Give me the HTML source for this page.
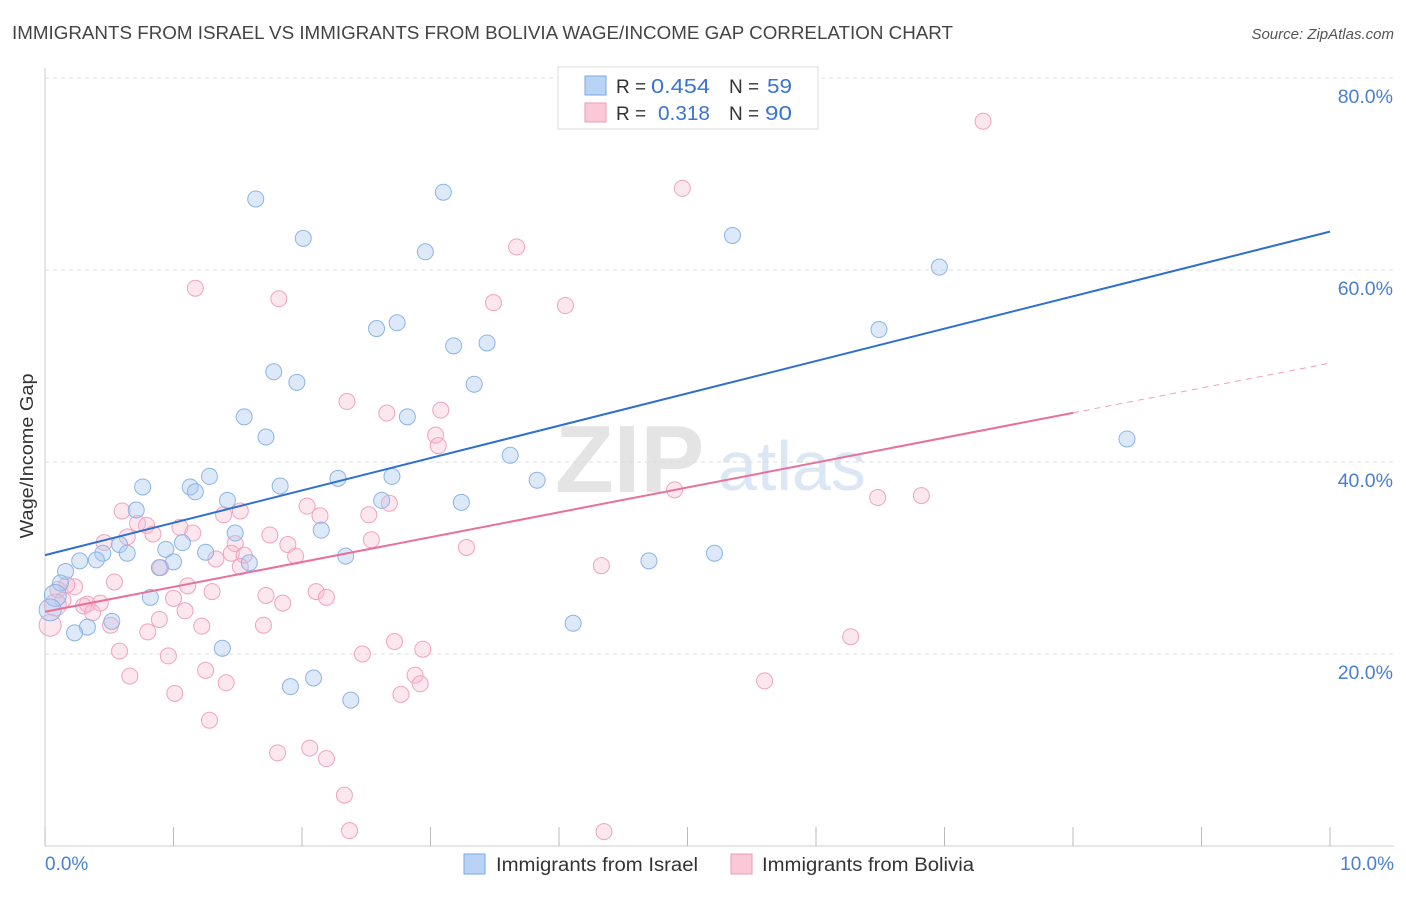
<!DOCTYPE html>
<html><head><meta charset="utf-8">
<style>
body{margin:0;background:#fff;font-family:"Liberation Sans",sans-serif;}
svg text{font-family:"Liberation Sans",sans-serif;}
</style></head>
<body>
<svg id="chart" width="1406" height="892" viewBox="0 0 1406 892" xmlns="http://www.w3.org/2000/svg">
<text x="12" y="39" font-size="18" fill="#444" textLength="941" lengthAdjust="spacingAndGlyphs">IMMIGRANTS FROM ISRAEL VS IMMIGRANTS FROM BOLIVIA WAGE/INCOME GAP CORRELATION CHART</text>
<text x="1394" y="39" font-size="15" fill="#555" font-style="italic" text-anchor="end">Source: ZipAtlas.com</text>
<text transform="translate(33,456) rotate(-90)" font-size="18" fill="#333" text-anchor="middle" textLength="165" lengthAdjust="spacingAndGlyphs">Wage/Income Gap</text>
<g>
<text x="555" y="492" font-size="96" fill="#e4e4e4" font-family="Liberation Serif" font-weight="bold">ZIP</text>
<text x="718" y="490" font-size="70" fill="#dce7f5">atlas</text>
</g>
<g id="grid"></g>
<g id="axes"></g>
<g id="pink"></g>
<g id="blue"></g>
<g id="lines"></g>
<g>
<rect x="558" y="67" width="260" height="62" fill="#fff" stroke="#ddd"/>
<rect x="585" y="76" width="21" height="19" fill="#b9d3f5" stroke="#7aa8e6"/>
<rect x="585" y="103" width="21" height="19" fill="#fbc8d8" stroke="#ef9ab6"/>
<text x="616" y="93" font-size="19" fill="#333">R = </text><text x="651" y="93" font-size="20" fill="#3a74d0" textLength="59" lengthAdjust="spacingAndGlyphs">0.454</text>
<text x="729" y="93" font-size="19" fill="#333">N = </text><text x="767" y="93" font-size="20" fill="#3a74d0" textLength="25" lengthAdjust="spacingAndGlyphs">59</text>
<text x="616" y="120" font-size="19" fill="#333">R = </text><text x="658" y="120" font-size="20" fill="#3a74d0" textLength="52" lengthAdjust="spacingAndGlyphs">0.318</text>
<text x="729" y="120" font-size="19" fill="#333">N = </text><text x="765" y="120" font-size="20" fill="#3a74d0" textLength="27" lengthAdjust="spacingAndGlyphs">90</text>
</g>
<g>
<rect x="464" y="854" width="21" height="20" fill="#b9d3f5" stroke="#7aa8e6"/>
<text x="496" y="871" font-size="19" fill="#333" textLength="202" lengthAdjust="spacingAndGlyphs">Immigrants from Israel</text>
<rect x="731" y="854" width="21" height="20" fill="#fbc8d8" stroke="#ef9ab6"/>
<text x="762" y="871" font-size="19" fill="#333" textLength="212" lengthAdjust="spacingAndGlyphs">Immigrants from Bolivia</text>
</g>
</svg>
<script>
const blueX=[1.64,2.01,3.10,2.96,5.35,6.96,6.49,2.58,2.74,3.18,3.44,3.34,1.78,1.96,1.55,1.72,2.82,8.42,3.62,3.83,2.70,2.28,3.24,2.62,1.83,1.28,1.13,1.17,0.76,1.42,0.71,1.48,2.15,2.34,1.59,1.07,0.94,1.25,1.00,0.89,0.58,0.45,0.64,0.40,0.27,0.16,0.12,0.08,0.82,0.52,0.33,0.23,1.38,1.91,2.09,2.38,4.11,4.70,5.21,0.04];
const blueY=[67.4,63.3,68.1,61.9,63.6,60.3,53.8,53.9,54.5,52.1,52.4,48.1,49.4,48.3,44.7,42.6,44.7,42.4,40.7,38.1,38.5,38.3,35.8,36.0,37.5,38.5,37.4,36.9,37.4,36.0,35.0,32.6,32.9,30.2,29.5,31.6,30.9,30.6,29.6,29.0,31.4,30.5,30.5,29.8,29.7,28.6,27.4,26.1,25.9,23.4,22.8,22.2,20.6,16.6,17.5,15.2,23.2,29.7,30.5,24.6];
const pinkX=[7.30,4.96,3.67,1.17,1.82,3.49,4.05,2.35,2.66,3.08,3.04,3.06,4.90,6.48,6.82,2.04,2.68,2.52,2.14,1.52,1.39,0.60,0.72,0.79,0.84,1.05,1.15,0.64,0.46,1.75,1.89,1.95,1.48,1.45,1.55,1.33,2.54,3.28,4.33,0.90,1.11,1.30,1.72,1.85,2.11,2.19,1.00,1.09,0.89,0.54,0.23,0.17,0.10,0.14,0.33,0.43,0.30,0.37,0.51,0.80,1.22,1.70,2.72,2.94,2.47,0.58,0.96,6.27,0.66,1.01,1.25,1.41,2.77,2.88,2.92,5.60,1.28,1.81,2.06,2.19,2.33,2.37,4.35,0.04,0.08,1.52];
const pinkY=[75.5,68.5,62.4,58.1,57.0,56.6,56.3,46.3,45.1,45.4,42.8,41.7,37.1,36.3,36.5,35.4,35.7,34.5,34.4,34.9,34.5,34.9,33.6,33.4,32.5,33.2,32.6,32.2,31.6,32.4,31.4,30.2,31.5,30.5,30.3,29.9,31.9,31.1,29.2,29.0,27.1,26.5,26.1,25.3,26.5,25.9,25.8,24.5,23.6,27.5,27.0,27.2,26.7,25.6,25.2,25.3,25.0,24.3,23.0,22.3,22.9,23.0,21.3,20.5,20.0,20.3,19.8,21.8,17.7,15.9,18.3,17.0,15.8,17.8,16.9,17.2,13.1,9.7,10.2,9.1,5.3,1.6,1.5,23.0,25.1,29.1];
const blueTrend=[30.3,64.0];
const pinkTrend=[24.4,50.3];
const yTicks=[20,40,60,80];
const yTickLabels=["20.0%","40.0%","60.0%","80.0%"];
const xTicks=[0,1,2,3,4,5,6,7,8,9,10];

const NS="http://www.w3.org/2000/svg";
const X0=45,X1=1330,Y0=846,YPX=9.6;
function sx(v){return X0+(X1-X0)*v/10;}
function sy(v){return Y0-v*YPX;}
function mk(tag,attrs,parent){const e=document.createElementNS(NS,tag);for(const k in attrs)e.setAttribute(k,attrs[k]);parent.appendChild(e);return e;}
const grid=document.getElementById('grid'),axes=document.getElementById('axes');
yTicks.forEach((t,i)=>{
  const l=mk('line',{x1:X0,x2:1394,y1:sy(t),y2:sy(t),stroke:'#ddd','stroke-dasharray':'4,4'},grid);
  
  
  const tx=mk('text',{x:1393,y:sy(t)+25,'font-size':19.5,fill:'#4a7fd0','text-anchor':'end'},axes);
  tx.textContent=yTickLabels[i];
  
  
});
mk('line',{x1:X0,x2:X0,y1:68,y2:Y0,stroke:'#ccc'},axes);
mk('line',{x1:X0,x2:1394,y1:Y0,y2:Y0,stroke:'#ccc'},axes);
xTicks.forEach(t=>{
  const l=mk('line',{x1:sx(t),x2:sx(t),y1:827,y2:Y0,stroke:'#bbb'},axes);
  
  
});
let t1=mk('text',{x:45,y:870,'font-size':19,fill:'#4a7fd0'},axes);t1.textContent="0.0%";


let t2=mk('text',{x:1394,y:870,'font-size':19,fill:'#4a7fd0','text-anchor':'end'},axes);t2.textContent="10.0%";



const pg=document.getElementById('pink');
pinkX.forEach((x,i)=>{
  const big=x<0.1;
  const c=mk('circle',{cx:sx(x),cy:sy(pinkY[i]),r:big?11:8,fill:'rgba(248,185,205,0.35)',stroke:'#f0a3bd','stroke-width':1},pg);
  
  
});
const bg=document.getElementById('blue');
blueX.forEach((x,i)=>{
  const big=x<0.1;
  const c=mk('circle',{cx:sx(x),cy:sy(blueY[i]),r:big?11:8,fill:'rgba(170,200,240,0.4)',stroke:'#8ab4e8','stroke-width':1},bg);
  
  
});
const lg=document.getElementById('lines');
let bl=mk('line',{x1:sx(0),y1:sy(blueTrend[0]),x2:sx(10),y2:sy(blueTrend[1]),stroke:'#2e6fd0','stroke-width':2},lg);


const pAt=x=>pinkTrend[0]+(pinkTrend[1]-pinkTrend[0])*x/10;
let pl=mk('line',{x1:sx(0),y1:sy(pAt(0)),x2:sx(8),y2:sy(pAt(8)),stroke:'#e8709a','stroke-width':2},lg);


let pd=mk('line',{x1:sx(8),y1:sy(pAt(8)),x2:sx(10),y2:sy(pAt(10)),stroke:'#eea0bb','stroke-width':1,'stroke-dasharray':'6,5'},lg);


</script>
</body></html>
